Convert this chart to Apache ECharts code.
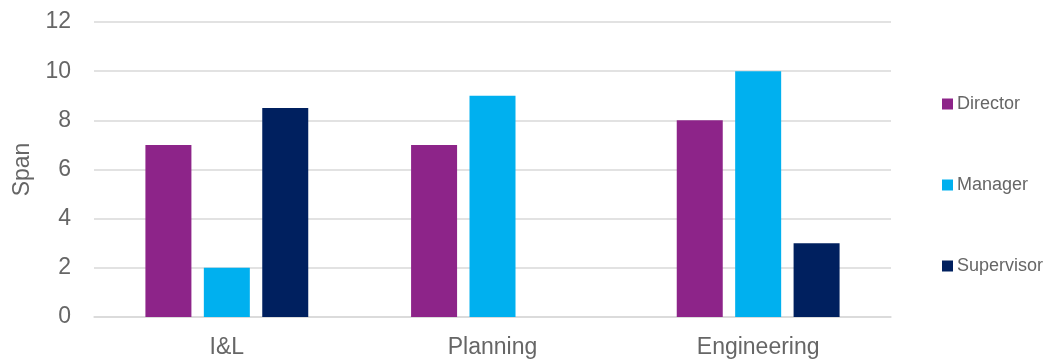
<!DOCTYPE html>
<html>
<head>
<meta charset="utf-8">
<script src="https://cdn.jsdelivr.net/npm/echarts@6/dist/echarts.min.js"></script>
<style>
  html, body { margin: 0; padding: 0; background: #fff; }
  #chart { width: 1047px; height: 360px; }
</style>
</head>
<body>
<div id="chart"></div>
<script>
// Span of control by function and role
const categories = ['I&L', 'Planning', 'Engineering'];
const director = [7, 7, 8];
const manager = [2, 9, 10];
const supervisor = [8.5, 0, 3];
const yTicks = { min: 0, max: 12, interval: 2 };

const textColor = '#666666';
const fontFamily = '"Liberation Sans", Arial, sans-serif';

const chart = echarts.init(document.getElementById('chart'));

function barSeries(name, data, color) {
  return {
    name: name,
    type: 'bar',
    data: data,
    barWidth: 46,
    barGap: '27%',
    itemStyle: { color: color },
    emphasis: { disabled: true }
  };
}

chart.setOption({
  animation: false,
  textStyle: { fontFamily: fontFamily, color: textColor },
  grid: { left: 94, right: 156, top: 22, bottom: 43, containLabel: false },
  legend: {
    orient: 'vertical',
    left: 937,
    top: 90,
    itemWidth: 11,
    itemHeight: 11,
    itemGap: 63,
    icon: 'rect',
    textStyle: { fontSize: 18, color: textColor, fontFamily: fontFamily, padding: [0, 0, 0, -1] },
    data: ['Director', 'Manager', 'Supervisor']
  },
  xAxis: {
    type: 'category',
    data: categories,
    axisLine: { show: true, lineStyle: { color: '#d9d9d9', width: 1.5 } },
    axisTick: { show: false },
    axisLabel: { fontSize: 23, color: textColor, margin: 19 }
  },
  yAxis: {
    type: 'value',
    min: yTicks.min,
    max: yTicks.max,
    interval: yTicks.interval,
    name: 'Span',
    nameLocation: 'middle',
    nameGap: 60,
    nameTextStyle: { fontSize: 23, color: textColor },
    axisLine: { show: false },
    axisTick: { show: false },
    axisLabel: { fontSize: 23, color: textColor, margin: 23 },
    splitLine: { lineStyle: { color: '#d9d9d9', width: 1.5 } }
  },
  series: [
    barSeries('Director', director, '#8D2489'),
    barSeries('Manager', manager, '#00B0EF'),
    barSeries('Supervisor', supervisor, '#00205F')
  ]
});
</script>
</body>
</html>
